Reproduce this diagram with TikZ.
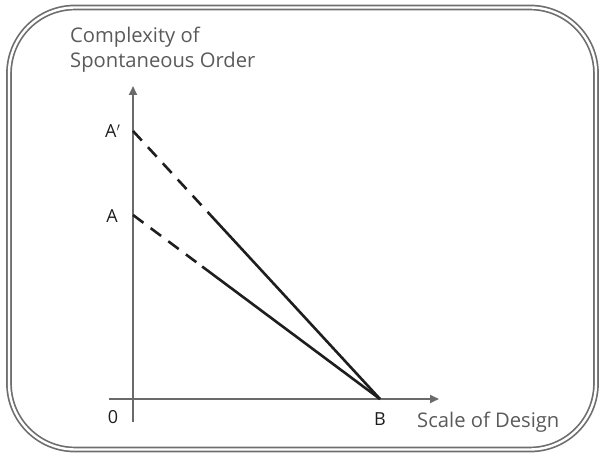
\documentclass[tikz,border=0pt]{standalone}
\usepackage{fontspec}
\setmainfont{Open Sans}
\usepackage{xcolor}
\usepackage{tikz}
\usetikzlibrary{positioning, arrows.meta, calc}
\definecolor{framegray}{HTML}{6E6E6E}
\definecolor{axisgray}{HTML}{6A6A6A}
\definecolor{labelgray}{HTML}{5A5A5A}
\definecolor{pointblack}{HTML}{1E1E1E}

\begin{document}
\begin{tikzpicture}[x=1pt, y=-1pt,
  axis/.style={draw=axisgray, line width=2.2pt, -{Triangle[length=9pt, width=8pt]}},
  curve/.style={draw=pointblack, line width=2.6pt},
  axislabel/.style={text=labelgray, inner sep=0pt, font=\fontsize{20.2}{25}\selectfont},
  pointlabel/.style={text=pointblack, inner sep=0pt, font=\fontsize{18}{20}\selectfont}]
  \useasboundingbox (0,0) rectangle (600,454);
  \draw[framegray, line width=1.7pt, double=white, double distance=2.4pt,
        rounded corners=66pt] (9,7.5) rectangle (596,449.5);

  % axes
  \coordinate (ytail) at (133,422);
  \coordinate (ytip)  at (133,86);
  \coordinate (xtail) at (109,399);
  \coordinate (xtip)  at (439,399);
  \draw[axis] (ytail) -- (ytip);
  \draw[axis] (xtail) -- (xtip);

  % points on the axes
  \coordinate (aprime) at (133,131);
  \coordinate (a)      at (133,215);
  \coordinate (b)      at (380,399);
  \coordinate (aprimecut) at ($(aprime)!0.31!(b)$);
  \coordinate (acut)      at ($(a)!0.28!(b)$);

  \draw[curve, dash pattern=on 13pt off 9pt] (aprime) -- (aprimecut);
  \draw[curve] (aprimecut) -- (b);
  \draw[curve, dash pattern=on 13pt off 9pt] (a) -- (acut);
  \draw[curve] (acut) -- (b);

  % labels
  \node[axislabel, anchor=base west, align=left] (ylabel) at (70,68)
    {Complexity of\\Spontaneous Order};
  \node[axislabel, anchor=base west] (xlabel) at (417,428) {Scale of Design};
  \node[pointlabel, anchor=base west] (aprimelabel) at (105,138) {A$'$};
  \node[pointlabel, anchor=base] (alabel) at (112,223) {A};
  \node[pointlabel, anchor=base] (zerolabel) at (113,424) {0};
  \node[pointlabel, anchor=base] (blabel) at (380,425) {B};
\end{tikzpicture}
\end{document}
